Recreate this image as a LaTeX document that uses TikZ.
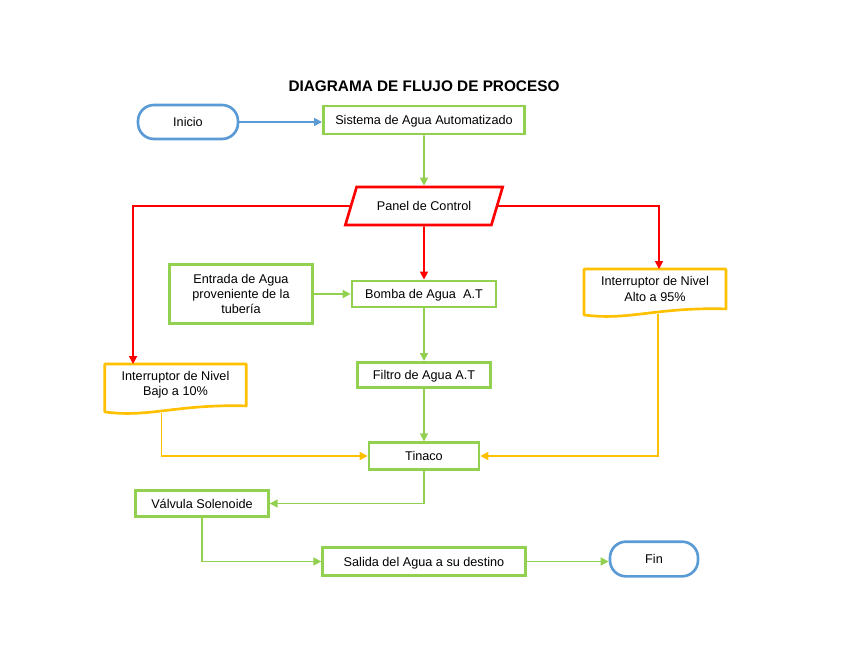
\documentclass[tikz,border=0pt]{standalone}
\usepackage{fontspec}
\setmainfont{Liberation Sans}
\usepackage{tikz}
\usetikzlibrary{shapes.geometric,arrows.meta,calc}
\definecolor{azul}{HTML}{5B9BD5}
\definecolor{verde}{HTML}{92D050}
\definecolor{rojo}{HTML}{FF0000}
\definecolor{amarillo}{HTML}{FFC000}

\begin{document}
\begin{tikzpicture}[x=0.75pt,y=-0.75pt,font=\fontsize{9.5}{11.5}\selectfont,
	caja/.style={draw=verde,line width=2pt,rectangle,align=center,inner sep=2pt},
	linea/.style={text height=7.5pt,text depth=0.5pt},
	term/.style={draw=azul,line width=2pt,rectangle,rounded corners=12pt},
	docu/.style={draw=amarillo,line width=2pt,line join=round},
	flecha/.style={line width=1.2pt,-{Triangle[length=6pt,width=6pt]}}]
\useasboundingbox(0,0)rectangle(848,655);
\node[font=\bfseries\fontsize{11.5}{13}\selectfont](titulo)at(424,86){DIAGRAMA DE FLUJO DE PROCESO};
% terminales
\node[term,linea,minimum width=75pt,minimum height=25.5pt](inicio)at(188,122){Inicio};
\node[term,linea,minimum width=66pt,minimum height=26pt](fin)at(654,559){Fin};
% cajas
\node[caja,linea,minimum width=151pt,minimum height=21pt](sistema)at(424,120){Sistema de Agua Automatizado};
\node[draw=rojo,line width=2pt,linea,trapezium,trapezium left angle=60,trapezium right angle=120,trapezium stretches body,minimum width=118pt,minimum height=28.5pt](panel)at(424,206){Panel de Control};
\node[caja,minimum width=107.5pt,minimum height=44.3pt](entrada)at(241,294){Entrada de Agua\\proveniente de la\\tubería};
\node[caja,linea,minimum width=108pt,minimum height=19.7pt](bomba)at(424,294){Bomba de Agua\ \ A.T};
\node[caja,linea,minimum width=99.5pt,minimum height=19pt](filtro)at(424,375){Filtro de Agua A.T};
\node[caja,linea,minimum width=82.5pt,minimum height=20pt](tinaco)at(424,456){Tinaco};
\node[caja,linea,minimum width=99.5pt,minimum height=19.5pt](valvula)at(202,503.5){Válvula Solenoide};
\node[caja,linea,minimum width=152pt,minimum height=21pt](salida)at(424,561.5){Salida del Agua a su destino};
% documentos
\node[align=center,minimum width=105.75pt,minimum height=31pt](bajo)at(175.5,385){Interruptor de Nivel\\Bajo a 10\%};
\node[align=center,minimum width=106pt,minimum height=29.5pt](alto)at(655,289){Interruptor de Nivel\\Alto a 95\%};
\draw[docu](bajo.north west)--(bajo.north east)--(bajo.south east) .. controls +(-70,-2) and +(45,6) .. ($(bajo.south west)+(0,6)$)--cycle;
\draw[docu](alto.north west)--(alto.north east)--(alto.south east) .. controls +(-70,-2) and +(45,6) .. ($(alto.south west)+(0,6)$)--cycle;
% conectores
\draw[flecha,azul](inicio.east)--(inicio.east-|sistema.west);
\draw[flecha,verde](sistema.south)--(panel.north);
\draw[flecha,rojo](panel.left side)-|($(bajo.north west)!0.2!(bajo.north east)$);
\draw[flecha,rojo](panel.right side)-|($(alto.north)+(4,0)$);
\draw[flecha,rojo](panel.south)--(bomba.north);
\draw[flecha,verde](entrada.east)--(bomba.west);
\draw[flecha,verde](bomba.south)--(filtro.north);
\draw[flecha,verde](filtro.south)--(tinaco.north);
\draw[flecha,amarillo]($(bajo.south west)!0.4!(bajo.south east)+(0,7)$)|-(tinaco.west);
\draw[flecha,amarillo]($(alto.south)+(3,5)$)|-(tinaco.east);
\draw[flecha,verde](tinaco.south)|-(valvula.east);
\draw[flecha,verde](valvula.south)|-(salida.west);
\draw[flecha,verde](salida.east)--(salida.east-|fin.west);
\end{tikzpicture}
\end{document}
